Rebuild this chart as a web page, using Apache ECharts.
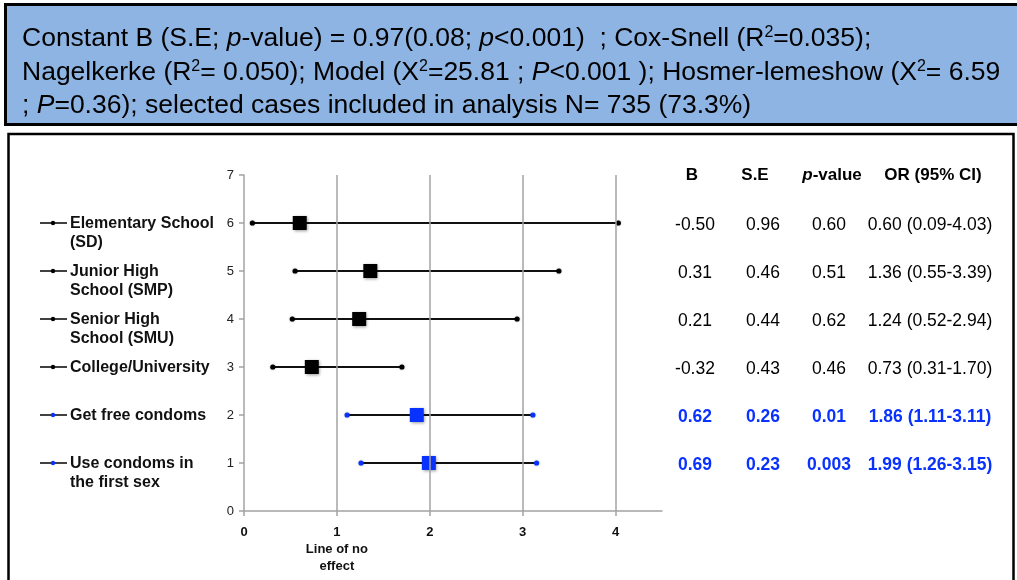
<!DOCTYPE html>
<html>
<head>
<meta charset="utf-8">
<script src="https://cdn.jsdelivr.net/npm/echarts@6/dist/echarts.min.js"></script>
<style>
html,body{margin:0;padding:0;background:#fff;}
#c{width:1017px;height:580px;}
</style>
</head>
<body>
<div id="c"></div>
<script>
// ---- data ----
const rowLabels = ['Elementary School\n(SD)', 'Junior High\nSchool (SMP)', 'Senior High\nSchool (SMU)', 'College/University', 'Get free condoms', 'Use condoms in\nthe first sex'];
const rowY = [6, 5, 4, 3, 2, 1];
const orValues = [0.60, 1.36, 1.24, 0.73, 1.86, 1.99];
const ciLower = [0.09, 0.55, 0.52, 0.31, 1.11, 1.26];
const ciUpper = [4.03, 3.39, 2.94, 1.70, 3.11, 3.15];
const bValues = ['-0.50', '0.31', '0.21', '-0.32', '0.62', '0.69'];
const seValues = ['0.96', '0.46', '0.44', '0.43', '0.26', '0.23'];
const pValues = ['0.60', '0.51', '0.62', '0.46', '0.01', '0.003'];
const significant = [false, false, false, false, true, true];
const tableHeaders = ['B', 'S.E', 'p-value', 'OR (95% CI)'];
const xTicks = [0, 1, 2, 3, 4];
const gridLinesX = [1, 2, 3, 4];
const noEffectLabel = ['Line of no', 'effect'];
const bannerLines = [
  'Constant B (S.E; {i|p}-value) = 0.97(0.08; {i|p}<0.001)  ; Cox-Snell (R{s|2}=0.035);',
  'Nagelkerke (R{s|2}= 0.050); Model (X{s|2}=25.81 ; {i|P}<0.001 ); Hosmer-lemeshow (X{s|2}= 6.59',
  '; {i|P}=0.36); selected cases included in analysis N= 735 (73.3%)'
];

const BLUE = '#0a32ff';
const FONT = 'Liberation Sans, Arial, sans-serif';

const chart = echarts.init(document.getElementById('c'), null, {renderer: 'canvas'});

const option = {
  animation: false,
  backgroundColor: '#fff',
  grid: {left: 244, right: 355, top: 175, bottom: 69, containLabel: false},
  xAxis: {
    type: 'value', min: 0, max: 4.5, interval: 1,
    axisLine: {show: true, lineStyle: {color: '#a3a3a3', width: 1.5}},
    axisTick: {show: true, length: 5, customValues: xTicks, lineStyle: {color: '#a3a3a3', width: 1.5}},
    splitLine: {show: false},
    axisLabel: {
      customValues: xTicks, margin: 13,
      formatter: function (v) {
        if (v === 1) return '{b|1}\n{n|' + noEffectLabel[0] + '}\n{n|' + noEffectLabel[1] + '}';
        return '{b|' + v + '}';
      },
      rich: {
        b: {fontFamily: FONT, fontSize: 13, fontWeight: 'bold', color: '#111', lineHeight: 17},
        n: {fontFamily: FONT, fontSize: 13, fontWeight: 'bold', color: '#111', lineHeight: 17}
      }
    }
  },
  yAxis: {
    type: 'value', min: 0, max: 7, interval: 1,
    axisLine: {show: true, lineStyle: {color: '#a3a3a3', width: 1.5}},
    axisTick: {show: true, length: 5, lineStyle: {color: '#a3a3a3', width: 1.5}},
    splitLine: {show: false},
    axisLabel: {margin: 10, fontFamily: FONT, fontSize: 13, color: '#222'}
  },
  series: [
    {
      type: 'line', data: [], silent: true,
      markLine: {
        silent: true, symbol: 'none', label: {show: false},
        lineStyle: {color: '#a3a3a3', width: 1.5, type: 'solid'},
        data: gridLinesX.map(v => ({xAxis: v}))
      }
    },
    {
      type: 'custom',
      data: rowY.map((y, i) => [ciLower[i], ciUpper[i], y, significant[i] ? 1 : 0]),
      renderItem: function (params, api) {
        const p1 = api.coord([api.value(0), api.value(2)]);
        const p2 = api.coord([api.value(1), api.value(2)]);
        const dotColor = api.value(3) ? BLUE : '#000';
        return {
          type: 'group',
          children: [
            {type: 'line', shape: {x1: p1[0], y1: p1[1], x2: p2[0], y2: p2[1]}, style: {stroke: '#111', lineWidth: 1.8}},
            {type: 'circle', shape: {cx: p1[0], cy: p1[1], r: 2.6}, style: {fill: dotColor, shadowBlur: 2, shadowColor: 'rgba(0,0,0,0.35)'}},
            {type: 'circle', shape: {cx: p2[0], cy: p2[1], r: 2.6}, style: {fill: dotColor, shadowBlur: 2, shadowColor: 'rgba(0,0,0,0.35)'}}
          ]
        };
      },
      z: 3
    },
    {
      type: 'scatter', symbol: 'rect', symbolSize: 14, z: 4,
      data: rowY.map((y, i) => ({
        value: [orValues[i], y],
        itemStyle: {color: significant[i] ? BLUE : '#000', opacity: 1, shadowBlur: 3, shadowOffsetX: 1, shadowOffsetY: 1, shadowColor: 'rgba(0,0,0,0.4)'}
      }))
    }
  ]
};
chart.setOption(option);

// ---- graphics: banner, frame, left labels, table ----
const g = [];
g.push({type: 'rect', shape: {x: 5.5, y: 4.5, width: 1020, height: 120}, style: {fill: '#8eb4e3', stroke: '#000', lineWidth: 3}, z: 0});
g.push({type: 'rect', shape: {x: 8.5, y: 134, width: 1005, height: 460}, style: {fill: 'none', stroke: '#000', lineWidth: 2.5}, z: 0});
bannerLines.forEach((t, i) => {
  g.push({
    type: 'text', x: 22, y: 39 + i * 33.5, z: 5,
    style: {
      text: t, fontFamily: FONT, fontSize: 26.5, fill: '#000', verticalAlign: 'middle', align: 'left',
      rich: {
        i: {fontFamily: FONT, fontSize: 26.5, fontStyle: 'italic', fill: '#000'},
        s: {fontFamily: FONT, fontSize: 16, fill: '#000', verticalAlign: 'top', padding: [0, 0, 12, 0]}
      }
    }
  });
});

const colX = [695, 763, 829, 930];
const hdrY = chart.convertToPixel({yAxisIndex: 0}, 7);
tableHeaders.forEach((h, j) => {
  const txt = j === 2 ? '{i|p}-value' : h;
  g.push({
    type: 'text', x: colX[j] + (j === 3 ? 3 : 0) + (j === 1 ? -8 : 0) + (j === 0 ? -3 : 0) + (j === 2 ? 3 : 0), y: hdrY, z: 5,
    style: {
      text: txt, fontFamily: FONT, fontSize: 17, fontWeight: 'bold', fill: '#000', align: 'center', verticalAlign: 'middle',
      rich: {i: {fontFamily: FONT, fontSize: 17, fontWeight: 'bold', fontStyle: 'italic', fill: '#000'}}
    }
  });
});

rowY.forEach((y, i) => {
  const py = chart.convertToPixel({yAxisIndex: 0}, y);
  const col = significant[i] ? BLUE : '#000';
  // legend-like icon
  g.push({type: 'line', shape: {x1: 40, y1: py, x2: 67, y2: py}, style: {stroke: '#111', lineWidth: 1.6}, z: 5});
  g.push({type: 'circle', shape: {cx: 53, cy: py, r: 2.2}, style: {fill: col}, z: 6});
  g.push({
    type: 'text', x: 70, y: py - 9.5 + 1, z: 5,
    style: {text: rowLabels[i], fontFamily: FONT, fontSize: 16, fontWeight: 'bold', fill: '#111', align: 'left', verticalAlign: 'top', lineHeight: 19}
  });
  const vals = [bValues[i], seValues[i], pValues[i], orValues[i].toFixed(2) + ' (' + ciLower[i].toFixed(2) + '-' + ciUpper[i].toFixed(2) + ')'];
  vals.forEach((v, j) => {
    g.push({
      type: 'text', x: colX[j], y: py + 2, z: 5,
      style: {text: v, fontFamily: FONT, fontSize: 17.5, fontWeight: significant[i] ? 'bold' : 'normal', fill: col, align: 'center', verticalAlign: 'middle'}
    });
  });
});
chart.setOption({graphic: {elements: g}});
</script>
</body>
</html>
